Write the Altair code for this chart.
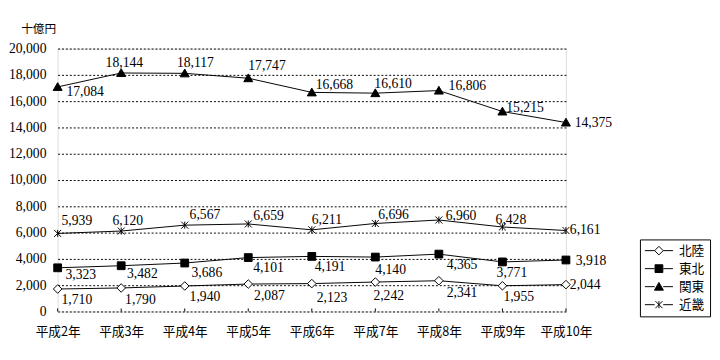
import altair as alt
import pandas as pd

# ---------------- data ----------------
years = ["平成2年", "平成3年", "平成4年", "平成5年", "平成6年",
         "平成7年", "平成8年", "平成9年", "平成10年"]
series_names = ["北陸", "東北", "関東", "近畿"]
hokuriku = [1710, 1790, 1940, 2087, 2123, 2242, 2341, 1955, 2044]
tohoku = [3323, 3482, 3686, 4101, 4191, 4140, 4365, 3771, 3918]
kanto = [17084, 18144, 18117, 17747, 16668, 16610, 16806, 15215, 14375]
kinki = [5939, 6120, 6567, 6659, 6211, 6696, 6960, 6428, 6161]
y_ticks = list(range(0, 20001, 2000))
unit_label = "十億円"

rows = []
for name, vals in zip(series_names, [hokuriku, tohoku, kanto, kinki]):
    for i, (yr, v) in enumerate(zip(years, vals)):
        rows.append({"series": name, "year": yr, "idx": i, "value": v})
df = pd.DataFrame(rows)

# ---------------- styles ----------------
NUM_FONT = "Liberation Serif"
JP_FONT = "Noto Sans CJK JP"

# label nudges (dx, dy) in pixels, per series and point
LABEL_NUDGE = {
    "北陸": [(4, 11), (4, 12), (5, 11), (6, 12), (5, 15), (-2, 14), (8, 13), (1, 12), (4, 1)],
    "東北": [(8, 7), (6, 9), (7, 10), (5, 11), (3, 11), (0, 13), (8, 11), (-6, 11), (10, 1)],
    "関東": [(9, 5), (-16, -10), (-8, -10), (0, -12), (4, -7), (-1, -9), (10, -5), (4, -3), (9, 1)],
    "近畿": [(4, -13), (-9, -10), (5, -10), (5, -8), (0, -10), (3, -9), (7, -4), (-7, -7), (4, 0)],
}

marker_paths = [
    "M0,-1.1L1.1,0L0,1.1L-1.1,0Z",
    "M-1,-1L1,-1L1,1L-1,1Z",
    "M0,-1.1L1.15,0.9L-1.15,0.9Z",
    "M-0.9,-0.9L0.9,0.9M-0.9,0.9L0.9,-0.9M0,-0.9L0,0.9",
]
stub = "M-3.6,0L-1.1,0M1.1,0L3.6,0"
legend_paths = [stub + p for p in marker_paths]
fills = ["white", "black", "black", "white"]
strokes = ["black"] * 4

x_axis = alt.Axis(title=None, labelAngle=0, ticks=False, domain=False, grid=False,
                  labelFont=JP_FONT, labelFontSize=13, labelColor="black",
                  labelPadding=15)
y_axis = alt.Axis(values=y_ticks, format=",.0f", ticks=False, domain=False,
                  grid=True, gridDash=[2, 2], gridColor="black", gridOpacity=1,
                  gridWidth=1, labelFont=NUM_FONT, labelFontSize=14,
                  labelColor="black", labelPadding=12, labelOverlap=False,
                  title=unit_label, titleAngle=0, titleX=-38, titleY=-21,
                  titleAlign="left", titleBaseline="middle",
                  titleFont=JP_FONT, titleFontSize=12, titleFontWeight="normal",
                  titleColor="black")
x_scale = alt.Scale(type="point", padding=0)
y_scale = alt.Scale(domain=[0, 20000], nice=False, zero=True)

X = alt.X("year:N", sort=years, scale=x_scale, axis=x_axis)
Y = alt.Y("value:Q", scale=y_scale, axis=y_axis)

base = alt.Chart(df).encode(x=X, y=Y)

lines = base.mark_line(color="black", strokeWidth=1).encode(detail="series:N")

points = base.mark_point(filled=True, strokeWidth=1, size=64, opacity=1).encode(
    shape=alt.Shape("series:N", scale=alt.Scale(domain=series_names, range=marker_paths),
                    legend=None),
    fill=alt.Fill("series:N", scale=alt.Scale(domain=series_names, range=fills),
                  legend=None),
    stroke=alt.Stroke("series:N", scale=alt.Scale(domain=series_names, range=strokes),
                      legend=None),
)

leg = alt.Legend(title=None, orient="none", legendX=598, legendY=196,
                 strokeColor="black", fillColor="white", padding=5, rowPadding=4.5,
                 labelFont=JP_FONT, labelFontSize=13, labelColor="black",
                 symbolStrokeWidth=1, symbolOpacity=1,
                 symbolSize=64, labelOffset=14, symbolOffset=8, cornerRadius=0)

legend_layer = base.mark_point(filled=True, strokeWidth=1, size=64, opacity=0).encode(
    shape=alt.Shape("series:N", scale=alt.Scale(domain=series_names, range=legend_paths),
                    legend=leg),
    fill=alt.Fill("series:N", scale=alt.Scale(domain=series_names, range=fills),
                  legend=leg),
    stroke=alt.Stroke("series:N", scale=alt.Scale(domain=series_names, range=strokes),
                      legend=leg),
)

ticks = base.transform_filter(alt.datum.series == series_names[0]).mark_rule(
    color="black", strokeWidth=1).encode(
    y=alt.Y(datum=0, scale=y_scale, axis=y_axis), y2=alt.Y2(datum=230))

label_layers = []
for name in series_names:
    for i, (dx, dy) in enumerate(LABEL_NUDGE[name]):
        label_layers.append(
            base.transform_filter(
                (alt.datum.series == name) & (alt.datum.idx == i)
            ).mark_text(align="left", baseline="middle", dx=dx, dy=dy,
                        font=NUM_FONT, fontSize=14, color="black").encode(
                text=alt.Text("value:Q", format=",")))

chart = alt.layer(lines, ticks, points, legend_layer, *label_layers).resolve_scale(
    shape="independent", fill="independent", stroke="independent"
).properties(
    width=522, height=270,
    autosize=alt.AutoSizeParams(type="none"),
    padding={"left": 51, "top": 37, "right": 150, "bottom": 40},
).configure_view(stroke="black", strokeWidth=1).configure(background="white")

chart.save("out.html", embed_options={"renderer": "svg", "actions": False})
